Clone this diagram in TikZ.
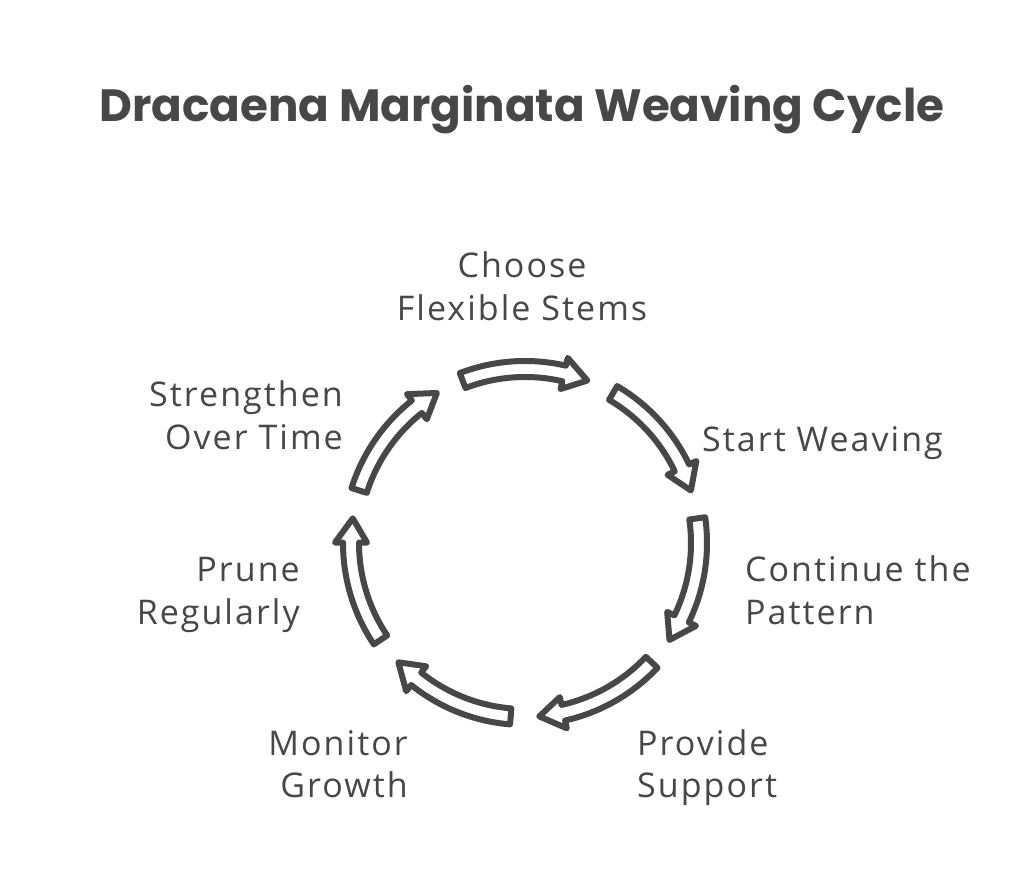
\documentclass[tikz,border=0pt]{standalone}
\usepackage{fontspec}
\setmainfont{Open Sans}[LetterSpace=6]
\newfontfamily\titlefont{Poppins}
\usetikzlibrary{calc}
\definecolor{ink}{HTML}{474747}
\tikzset{
  cyc/.style={draw=ink, line width=6pt, fill=white, line join=round},
  lbl/.style={font=\fontsize{34}{43}\selectfont, text=ink, inner sep=0pt},
}
\begin{document}
\begin{tikzpicture}[x=1pt,y=1pt]
\fill[white] (0,0) rectangle (1024,894);
\useasboundingbox (0,0) rectangle (1024,894);
\coordinate (C) at (525,351);
\node[text=ink, anchor=base, inner sep=0pt] (title) at (522,772)
  {\resizebox{845pt}{!}{\titlefont\bfseries\fontsize{48}{58}\selectfont Dracaena Marginata Weaving Cycle}};
\foreach \k in {0,...,6} {
  \pgfmathsetmacro\ta{90-51.4286*\k+21}
  \pgfmathsetmacro\tb{90-51.4286*\k-21}
  \pgfmathsetmacro\tc{\tb+8}
  \draw[cyc, shift={(C)}] (\ta:182) arc[start angle=\ta, end angle=\tc, radius=182]
    -- (\tc:190) -- (\tb:174) -- (\tc:158) -- (\tc:166)
    arc[start angle=\tc, end angle=\ta, radius=166] -- cycle;
}
\node[lbl, anchor=base] (l1a) at (522,616) {Choose};
\node[lbl, anchor=base] (l1b) at (522,573) {Flexible Stems};
\node[lbl, anchor=base west] (l2a) at (702,442) {Start Weaving};
\node[lbl, anchor=base west] (l3a) at (745,312) {Continue the};
\node[lbl, anchor=base west] (l3b) at (745,269) {Pattern};
\node[lbl, anchor=base west] (l4a) at (637,139) {Provide};
\node[lbl, anchor=base west] (l4b) at (637,97) {Support};
\node[lbl, anchor=base east] (l5a) at (408,139) {Monitor};
\node[lbl, anchor=base east] (l5b) at (408,97) {Growth};
\node[lbl, anchor=base east] (l6a) at (300,312) {Prune};
\node[lbl, anchor=base east] (l6b) at (300,269) {Regularly};
\node[lbl, anchor=base east] (l7a) at (343,487) {Strengthen};
\node[lbl, anchor=base east] (l7b) at (343,444) {Over Time};
\end{tikzpicture}
\end{document}
